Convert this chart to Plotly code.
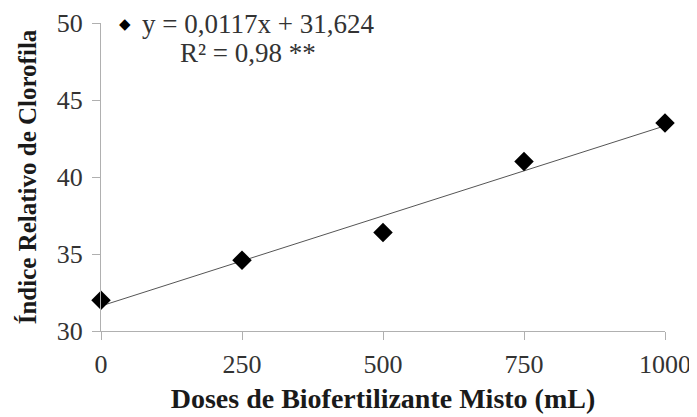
import plotly.graph_objects as go

doses = [0, 250, 500, 750, 1000]
clorofila = [32.0, 34.6, 36.4, 41.0, 43.5]
slope = 0.0117
intercept = 31.624
x_ticks = [0, 250, 500, 750, 1000]
y_ticks = [30, 35, 40, 45, 50]
eq_text = "y = 0,0117x + 31,624"
r2_text = "R² = 0,98 **"

trend_x = [doses[0], doses[-1]]
trend_y = [slope * v + intercept for v in trend_x]

font_family = "Liberation Serif"
OFF = 8  # default page body margin
W, H = 697 - OFF, 417 - OFF
L, R, T, B = 101 - OFF, 32, 23 - OFF, 86
PW, PH = W - L - R, H - T - B

def px(xp):
    return (xp - OFF - L) / PW

def py(yp):
    return 1 - (yp - OFF - T) / PH

fig = go.Figure()
fig.add_trace(go.Scatter(
    x=trend_x, y=trend_y, mode="lines",
    line=dict(color="#555555", width=1),
    showlegend=False, hoverinfo="skip", cliponaxis=False))
fig.add_trace(go.Scatter(
    x=doses, y=clorofila, mode="markers",
    marker=dict(symbol="diamond", size=15, color="black"),
    showlegend=False, cliponaxis=False))

fig.update_layout(
    width=W, height=H,
    margin=dict(l=L, r=R, t=T, b=B, autoexpand=False),
    paper_bgcolor="white", plot_bgcolor="white",
    font=dict(family=font_family, size=26, color="#333333"),
    showlegend=False,
    xaxis=dict(range=[0, 1000], tickvals=x_ticks, ticktext=[str(v) for v in x_ticks],
               showgrid=False, zeroline=False, showline=True, linecolor="#b0b0b0",
               linewidth=1, ticks="outside", ticklen=8, tickcolor="#b0b0b0",
               ticklabelstandoff=2, automargin=False,
               tickfont=dict(size=26, color="#333333"),
               title=dict(text="<b>Doses de Biofertilizante Misto (mL)</b>",
                          font=dict(size=28, color="#1a1a1a"), standoff=10)),
    yaxis=dict(range=[30, 50], tickvals=y_ticks, ticktext=[str(v) for v in y_ticks],
               showgrid=False, zeroline=False, showline=True, linecolor="#b0b0b0",
               linewidth=1, ticks="outside", ticklen=8, tickcolor="#b0b0b0",
               ticklabelstandoff=4, automargin=False,
               tickfont=dict(size=26, color="#333333"),
               title=dict(text="<b>Índice Relativo de Clorofila</b>",
                          font=dict(size=25, color="#1a1a1a"), standoff=13)),
)

fig.add_annotation(
    xref="paper", yref="paper", x=px(125), y=py(24),
    xanchor="center", yanchor="middle", showarrow=False,
    text="◆", font=dict(size=15, color="black", family="DejaVu Sans"))
fig.add_annotation(
    xref="paper", yref="paper", x=px(140), y=py(24),
    xanchor="left", yanchor="middle", showarrow=False,
    text=eq_text, font=dict(size=27, color="#333333", family=font_family))
fig.add_annotation(
    xref="paper", yref="paper", x=px(178), y=py(53),
    xanchor="left", yanchor="middle", showarrow=False,
    text=r2_text, font=dict(size=27, color="#333333", family=font_family))

fig.write_html("out.html")
